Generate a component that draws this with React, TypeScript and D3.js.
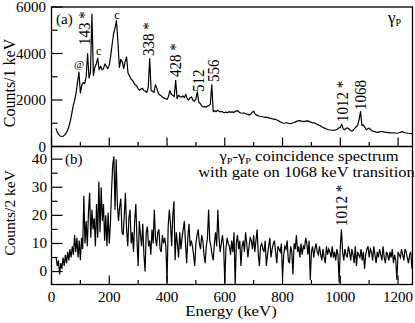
import * as d3 from "d3";

// panel (a): singles spectrum, 5 keV steps from 15 keV
const energyA = d3.range(15, 1251, 5);
const countsA = [
  780, 620, 520, 450, 430, 440, 490, 560, 680, 850,
  1080, 1400, 1750, 1980, 2300, 2750, 3200, 2300, 2650, 2750,
  2700, 3000, 4000, 2950, 3200, 5700, 3050, 3400, 3550, 3800,
  3300, 3450, 3300, 3350, 3550, 3450, 3350, 3500, 3900, 4400,
  4850, 5100, 5420, 4500, 3400, 3750, 3650, 3350, 3650, 3850,
  3150, 3050, 2900, 2850, 2750, 2650, 2600, 2480, 2420, 2470,
  2500, 2400, 2380, 2330, 2550, 3780, 2400, 2380, 2330, 2650,
  2500, 2280, 2220, 2180, 2120, 2080, 2060, 2020, 2150, 2400,
  2250, 2200, 2150, 2850, 2050, 2200, 2150, 2120, 2180, 2100,
  2250, 2050, 2000, 2100, 2130, 1980, 1950, 2050, 2350, 1900,
  1850, 1760, 1700, 1720, 1690, 1740, 1760, 1820, 2650, 1500,
  1540, 1500, 1560, 1520, 1490, 1510, 1470, 1460, 1480, 1450,
  1500, 1470, 1490, 1460, 1500, 1520, 1540, 1470, 1440, 1430,
  1450, 1420, 1400, 1380, 1360, 1390, 1470, 1520, 1400, 1350,
  1330, 1300, 1290, 1280, 1270, 1250, 1260, 1240, 1220, 1210,
  1190, 1180, 1170, 1140, 1110, 1080, 1040, 1010, 1000, 1010,
  1020, 1000, 980, 990, 1010, 1030, 1060, 1090, 1100, 1110,
  1090, 1080, 1070, 1090, 1100, 1090, 1060, 1040, 1020, 1020,
  990, 950, 920, 900, 850, 820, 790, 760, 740, 720,
  710, 700, 690, 700, 720, 740, 800, 820, 960, 760,
  720, 780, 800, 750, 700, 660, 700, 780, 850, 900,
  1150, 1500, 900, 930, 820, 720, 760, 790, 720, 680,
  650, 640, 620, 610, 630, 640, 650, 630, 620, 610,
  600, 600, 590, 580, 590, 580, 570, 580, 600, 620,
  640, 610, 590, 580, 570, 560, 555, 550,
];

// panel (b): coincidence spectrum, 4 keV steps from 16 keV
const energyB = d3.range(16, 1250, 4);
const countsB = [
  5, 2, 4, -1, 3, 1, 5, 2, 6, 3,
  7, 4, 8, 5, 9, 6, 13, 7, 12, 5,
  11, 4, 12, 8, 27, 10, 18, 9, 21, 28,
  12, 22, 15, 19, 9, 24, 12, 32, 14, 30,
  18, 24, 11, 20, 9, 21, 10, 17, 29, 38,
  41, 22, 40, 24, 18, 23, 26, 14, 13, 20,
  28, 15, 9, 19, 22, 10, 14, 7, 18, 24,
  11, 2, 18, 13, 9, 17, 6, 0, 14, 16,
  9, 11, 6, 15, 10, 22, 12, 9, 14, 15,
  8, 7, 13, 10, 12, 9, -4, 16, 22, 17,
  9, 20, 25, 4, 14, 10, 5, 14, 8, 12,
  15, 18, 10, 3, 12, 17, 9, 11, 9, 6,
  2, 10, 13, 15, 10, 8, 13, 11, 6, 3,
  9, 12, 22, 11, 9, 6, 4, 10, 14, 9,
  22, 12, 7, 10, 13, 9, -4, 8, 12, 10,
  9, 6, 11, 7, 14, -5, 10, 13, 8, 11,
  2, 9, 11, 7, 14, 10, 5, 9, 12, 11,
  8, 13, 7, 11, 15, 6, 2, 9, 10, 8,
  7, 11, 2, 6, 9, 12, 5, 8, 10, 11,
  7, 3, 9, 8, 7, 10, -2, 6, 9, 8,
  11, 4, 3, 9, 7, -1, 10, 8, 13, 7,
  9, 5, 10, 6, 9, 8, 12, 10, 6, 11,
  -3, 7, 9, 5, 8, 10, 7, 6, 9, 6,
  4, 8, 5, 3, 9, 6, 8, 7, 5, 9,
  5, 7, 4, 8, 6, -4, 9, 15, 7, 4,
  8, 6, 5, 9, 7, 4, 8, 6, 3, 9,
  2, 7, 6, 5, 8, 4, 7, 1, 6, 8,
  9, 5, 8, 7, 4, 9, 6, 3, 7, 5,
  8, 6, 4, 9, 5, 3, 7, 6, 4, 7,
  5, 8, 3, 6, 4, -3, 7, 6, 5, 8,
  6, 4, 8, 7, 5, 3, 6, 7, 1,
];

const xTicks = [0, 200, 400, 600, 800, 1000, 1200];
const xMinor = [100, 300, 500, 700, 900, 1100];
const yTicksA = [0, 2000, 4000, 6000];
const yMinorA = [1000, 3000, 5000];
const yTicksB = [0, 10, 20, 30, 40];
const yMinorB = [5, 15, 25, 35];

// rotated peak labels: label, baseline x, bottom y
const peakLabelsA = [
  { text: "143 *", x: 89.5, y: 45 },
  { text: "338 *", x: 154, y: 56 },
  { text: "428 *", x: 181, y: 77 },
  { text: "512", x: 204, y: 92 },
  { text: "556", x: 218.5, y: 82 },
  { text: "1012 *", x: 348, y: 122 },
  { text: "1068", x: 366, y: 110 },
];

const W = 415;
const H = 323;
const left = 51.5;
const right = 412.5;
const topA = 7;
const midY = 146.5;
const bottomB = 284.5;
const font = "Liberation Serif, Times New Roman, Times, serif";

export default function App() {
  const x = d3.scaleLinear().domain([0, 1250]).range([left, right]);
  const yA = d3.scaleLinear().domain([0, 6000]).range([midY, topA]);
  const yB = d3.scaleLinear().domain([-4.6, 44.5]).range([bottomB, midY]);

  const lineA = d3
    .line<number>()
    .x((_, i) => x(energyA[i]))
    .y((d) => yA(d));
  const lineB = d3
    .line<number>()
    .x((_, i) => x(energyB[i]))
    .y((d) => yB(d));

  const bottomTicks = (yb: number) => (
    <g stroke="#000" strokeWidth={1.2}>
      {xTicks.map((t) => (
        <line key={"M" + t} x1={x(t)} x2={x(t)} y1={yb} y2={yb - 9} />
      ))}
      {xMinor.map((t) => (
        <line key={"m" + t} x1={x(t)} x2={x(t)} y1={yb} y2={yb - 4.5} />
      ))}
    </g>
  );

  return (
    <svg
      width={W}
      height={H}
      style={{ position: "absolute", left: 0, top: 0, background: "#fff", fontFamily: font }}
    >
      <defs>
        <clipPath id="clipA">
          <rect x={left} y={topA} width={right - left} height={midY - topA} />
        </clipPath>
        <clipPath id="clipB">
          <rect x={left} y={midY} width={right - left} height={bottomB - midY} />
        </clipPath>
      </defs>

      {/* data */}
      <path
        d={lineA(countsA) || ""}
        fill="none"
        stroke="#000"
        strokeWidth={1.2}
        strokeLinejoin="round"
        clipPath="url(#clipA)"
      />
      <path
        d={lineB(countsB) || ""}
        fill="none"
        stroke="#000"
        strokeWidth={1.2}
        clipPath="url(#clipB)"
      />

      {/* frames */}
      <rect x={left} y={topA} width={right - left} height={midY - topA} fill="none" stroke="#000" strokeWidth={1.3} />
      <rect x={left} y={midY} width={right - left} height={bottomB - midY} fill="none" stroke="#000" strokeWidth={1.3} />

      {bottomTicks(midY)}
      {bottomTicks(bottomB)}

      {/* y ticks */}
      <g stroke="#000" strokeWidth={1.2}>
        {yTicksA.map((t) => (
          <line key={t} x1={left} x2={left + 11} y1={yA(t)} y2={yA(t)} />
        ))}
        {yMinorA.map((t) => (
          <line key={t} x1={left} x2={left + 6} y1={yA(t)} y2={yA(t)} />
        ))}
        {yTicksB.map((t) => (
          <line key={"b" + t} x1={left} x2={left + 11} y1={yB(t)} y2={yB(t)} />
        ))}
        {yMinorB.map((t) => (
          <line key={"bm" + t} x1={left} x2={left + 6} y1={yB(t)} y2={yB(t)} />
        ))}
      </g>

      {/* tick labels */}
      <g fontSize={15} textAnchor="end">
        {yTicksA.map((t) => (
          <text key={t} x={46} y={yA(t) + 5}>
            {t}
          </text>
        ))}
      </g>
      <g fontSize={14.5} textAnchor="end">
        {yTicksB.map((t) => (
          <text key={t} transform={`translate(47,${yB(t) + 4.5}) scale(1.05,1)`}>
            {t}
          </text>
        ))}
      </g>
      <g fontSize={14} textAnchor="middle">
        {xTicks.map((t) => (
          <text key={t} transform={`translate(${x(t)},301.5) scale(1.08,1)`}>
            {t}
          </text>
        ))}
      </g>

      {/* axis titles */}
      <text transform="translate(15,83) rotate(-90)" fontSize={16} textAnchor="middle">
        Counts/1 keV
      </text>
      <text transform="translate(15,213) rotate(-90)" fontSize={15.5} textAnchor="middle">
        Counts/2 keV
      </text>
      <text transform="translate(231,316) scale(1.12,1)" fontSize={15} textAnchor="middle">
        Energy (keV)
      </text>

      {/* panel a annotations */}
      <text x={56} y={23.5} fontSize={15}>(a)</text>
      <text x={388} y={23} fontSize={17}>
        γ<tspan fontSize={10} dy={3}>P</tspan>
      </text>
      <text x={79} y={67.5} fontSize={11} textAnchor="middle">@</text>
      <text x={98.7} y={55} fontSize={12} textAnchor="middle">c</text>
      <text x={117} y={18.5} fontSize={12} textAnchor="middle">c</text>
      {peakLabelsA.map((p) => (
        <text
          key={p.text}
          transform={`translate(${p.x},${p.y}) scale(1.1,1) rotate(-90)`}
          fontSize={15}
        >
          {p.text}
        </text>
      ))}

      {/* panel b annotations */}
      <text x={65} y={164} fontSize={15}>(b)</text>
      <text transform="translate(309,161) scale(1.14,1)" fontSize={14.5} textAnchor="middle">
        γ<tspan fontSize={9} dy={3}>P</tspan>
        <tspan dy={-3}>-γ</tspan>
        <tspan fontSize={9} dy={3}>P</tspan>
        <tspan dy={-3}> coincidence spectrum</tspan>
      </text>
      <text transform="translate(306.5,177) scale(1.14,1)" fontSize={14.5} textAnchor="middle">
        with gate on 1068 keV transition
      </text>
      <text transform="translate(346.5,226) scale(1.1,1) rotate(-90)" fontSize={15}>
        1012 *
      </text>
    </svg>
  );
}
